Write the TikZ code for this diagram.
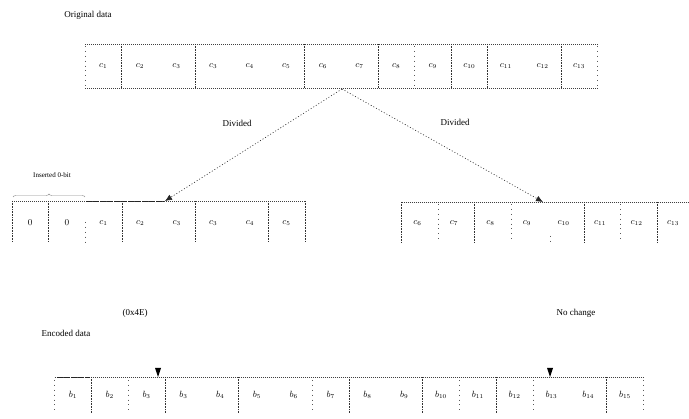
\documentclass[tikz,border=0pt]{standalone}
\usepackage{fontspec}
\setmainfont{Liberation Serif}
\usetikzlibrary{arrows.meta,decorations.pathreplacing}

\begin{document}
\begin{tikzpicture}[x=1pt,y=-1pt,
  fullsep/.style={draw=black!80, line width=0.5pt, dash pattern=on 0.7pt off 0.9pt},
  sparsesep/.style={draw=black!65, line width=0.5pt, dash pattern=on 0.9pt off 4pt},
  rowline/.style={draw=black!75, line width=0.55pt, dash pattern=on 1.2pt off 0.8pt},
  heavyline/.style={draw=black!85, line width=0.8pt, dash pattern=on 6pt off 1pt},
  cell/.style={font=\fontsize{9}{9}\selectfont, inner sep=0pt},
  caption/.style={font=\fontsize{9}{9}\selectfont, inner sep=0pt},
  smallcap/.style={font=\fontsize{7}{7}\selectfont, inner sep=0pt},
  link/.style={draw=black!85, line width=0.6pt, dash pattern=on 1pt off 2pt,
    -{Latex[length=7pt,width=6pt]}},
  marker/.style={fill=black}
]
\useasboundingbox (0,0) rectangle (689,419);

% ---------- captions ----------
\node[caption] (origcap) at (88,15) {Original data};
\node[caption] (divl) at (237,123) {Divided};
\node[caption] (divr) at (455,122) {Divided};
\node[smallcap] (ins) at (52,175) {Inserted 0-bit};
\node[caption] (hex) at (135,313) {(0x4E)};
\node[caption] (enccap) at (66,333) {Encoded data};
\node[caption] (nochg) at (576,313) {No change};

% ---------- original data row ----------
\draw[rowline] (85,44) -- (598,44);
\draw[rowline] (85,88) -- (598,88);
\foreach \k in {1,3,6,8,10,11,13}
  \draw[fullsep] ({85+36.6*\k},44) -- ({85+36.6*\k},88);
\foreach \k in {0,9,14}
  \draw[sparsesep] ({85+36.6*\k},46) -- ({85+36.6*\k},88);
\foreach \t [count=\i from 0] in {c_1,c_2,c_3,c_3,c_4,c_5,c_6,c_7,c_8,c_9,c_{10},c_{11},c_{12},c_{13}}
  \node[cell] (o\i) at ({85+36.6*\i+18.3},66) {$\t$};

% ---------- left part (zero padded) ----------
\draw[rowline] (12,201) -- (305,201);
\draw[heavyline] (86,201) -- (164,201);
\foreach \k in {0,1,3,5,7,8}
  \draw[fullsep] ({12+36.6*\k},201) -- ({12+36.6*\k},242);
\draw[sparsesep] ({12+36.6*2},222) -- ({12+36.6*2},242);
\foreach \t [count=\i from 0] in {0,0,c_1,c_2,c_3,c_3,c_4,c_5}
  \node[cell] (l\i) at ({12+36.6*\i+18.3},223) {$\t$};

% brace over the inserted zeros
\draw[black!45, line width=0.4pt, decorate,
  decoration={brace, amplitude=3pt, aspect=0.5}] (13,197) -- (85,197);

% ---------- right part ----------
\draw[rowline] (401.5,202) -- (689,202);
\foreach \k in {0,2,5,7}
  \draw[fullsep] ({401.5+36.5*\k},202) -- ({401.5+36.5*\k},243);
\foreach \k in {1,3,6}
  \draw[sparsesep] ({401.5+36.5*\k},204) -- ({401.5+36.5*\k},243);
\draw[sparsesep] (550,236) -- (550,243);
\foreach \t [count=\i from 0] in {c_6,c_7,c_8,c_9,c_{10},c_{11},c_{12},c_{13}}
  \node[cell] (r\i) at ({401.5+36.5*\i+16},223) {$\t$};

% ---------- division arrows ----------
\coordinate (split) at (342,89);
\coordinate (ltip) at (165,201);
\coordinate (rtip) at (543,202);
\draw[link] (split) -- (ltip);
\draw[link] (split) -- (rtip);

% ---------- encoded data row ----------
\draw[rowline] (54.6,377) -- (643.4,377);
\draw[heavyline] (57,377) -- (90,377);
\foreach \k in {1,3,5,8,10,12,15}
  \draw[fullsep] ({54.6+36.8*\k},377) -- ({54.6+36.8*\k},413);
\foreach \k in {0,2,7,11,13,16}
  \draw[sparsesep] ({54.6+36.8*\k},380) -- ({54.6+36.8*\k},413);
\foreach \t [count=\i from 0] in {b_1,b_2,b_3,b_3,b_4,b_5,b_6,b_7,b_8,b_9,b_{10},b_{11},b_{12},b_{13},b_{14},b_{15}}
  \node[cell] (e\i) at ({54.6+36.8*\i+18.4},395) {$\t$};

% split markers
\fill[marker] (155,368) -- (161,368) -- (158,377) -- cycle;
\fill[marker] (547,368) -- (553,368) -- (550,377) -- cycle;
\end{tikzpicture}
\end{document}
